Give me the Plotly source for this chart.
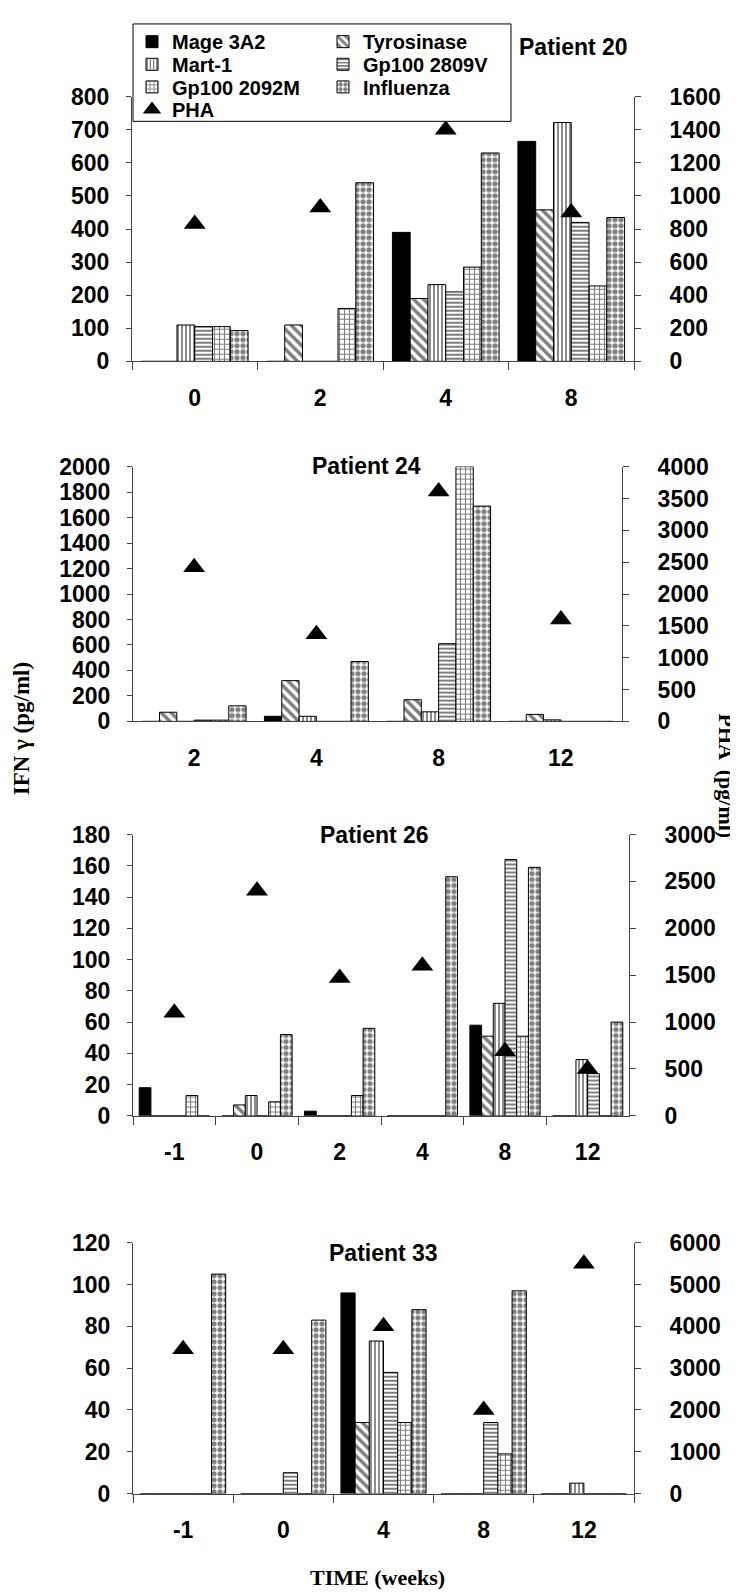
import plotly.graph_objects as go

W, H = 738, 1595
L, R = 124, 111
PW = W - L - R


def fx(px):
    return (px - L) / PW


def fy(py):
    return 1 - py / H


SERIES = ["Mage 3A2", "Tyrosinase", "Mart-1", "Gp100 2809V", "Gp100 2092M", "Influenza"]

# ---- Patient 20 ----
p20_weeks = ["0", "2", "4", "8"]
p20_mage = [0, 0, 390, 665]
p20_tyr = [0, 110, 190, 458]
p20_mart = [110, 0, 232, 722]
p20_g2809 = [105, 0, 210, 420]
p20_g2092 = [105, 160, 285, 228]
p20_flu = [93, 540, 630, 435]
p20_pha = [830, 930, 1400, 900]

# ---- Patient 24 ----
p24_weeks = ["2", "4", "8", "12"]
p24_mage = [0, 40, 0, 0]
p24_tyr = [72, 320, 170, 55]
p24_mart = [0, 40, 75, 12]
p24_g2809 = [10, 0, 610, 0]
p24_g2092 = [10, 0, 2000, 0]
p24_flu = [122, 470, 1690, 0]
p24_pha = [2420, 1370, 3610, 1600]

# ---- Patient 26 ----
p26_weeks = ["-1", "0", "2", "4", "8", "12"]
p26_mage = [18, 0, 3, 0, 58, 0]
p26_tyr = [0, 7, 0, 0, 51, 0]
p26_mart = [0, 13, 0, 0, 72, 36]
p26_g2809 = [0, 0, 0, 0, 164, 27]
p26_g2092 = [13, 9, 13, 0, 51, 0]
p26_flu = [0, 52, 56, 153, 159, 60]
p26_pha = [1100, 2400, 1470, 1600, 690, 500]

# ---- Patient 33 ----
p33_weeks = ["-1", "0", "4", "8", "12"]
p33_mage = [0, 0, 96, 0, 0]
p33_tyr = [0, 0, 34, 0, 0]
p33_mart = [0, 0, 73, 0, 5]
p33_g2809 = [0, 10, 58, 34, 0]
p33_g2092 = [0, 0, 34, 19, 0]
p33_flu = [105, 83, 88, 97, 0]
p33_pha = [3450, 3450, 4000, 2000, 5500]

STYLES = [
    dict(color="black", pattern=dict(shape="")),
    dict(color="white", pattern=dict(shape="\\", fgcolor="black", bgcolor="white", size=7, solidity=0.5)),
    dict(color="white", pattern=dict(shape="|", fgcolor="black", bgcolor="white", size=4, solidity=0.45)),
    dict(color="white", pattern=dict(shape="-", fgcolor="black", bgcolor="white", size=4, solidity=0.5)),
    dict(color="white", pattern=dict(shape="+", fgcolor="black", bgcolor="white", size=5, solidity=0.4)),
    dict(color="white", pattern=dict(shape=".", fgcolor="black", bgcolor="white", size=6, solidity=0.6)),
]
# legend rows (2 columns like the original key)
LEGEND_OF = ["legend", "legend", "legend2", "legend2", "legend3", "legend3"]

panels = [
    dict(weeks=p20_weeks, data=[p20_mage, p20_tyr, p20_mart, p20_g2809, p20_g2092, p20_flu], pha=p20_pha,
         ymax=800, dtick=100, y2max=1600, dtick2=200, x0=124, x1=626, ytop=77, ybot=346, xticks=True,
         title="Patient 20", tx=565, ty=26),
    dict(weeks=p24_weeks, data=[p24_mage, p24_tyr, p24_mart, p24_g2809, p24_g2092, p24_flu], pha=p24_pha,
         ymax=2000, dtick=200, y2max=4000, dtick2=500, x0=125, x1=614, ytop=453, ybot=712, xticks=False,
         title="Patient 24", tx=358, ty=452),
    dict(weeks=p26_weeks, data=[p26_mage, p26_tyr, p26_mart, p26_g2809, p26_g2092, p26_flu], pha=p26_pha,
         ymax=180, dtick=20, y2max=3000, dtick2=500, x0=125, x1=621, ytop=827, ybot=1113, xticks=True,
         title="Patient 26", tx=366, ty=827),
    dict(weeks=p33_weeks, data=[p33_mage, p33_tyr, p33_mart, p33_g2809, p33_g2092, p33_flu], pha=p33_pha,
         ymax=120, dtick=20, y2max=6000, dtick2=1000, x0=125, x1=626, ytop=1242, ybot=1497, xticks=True,
         title="Patient 33", tx=375, ty=1252),
]

SANS = "Liberation Sans, Arial, sans-serif"
SERIF = "Liberation Serif, Times New Roman, serif"
TICKFONT = dict(family=SANS, size=23, color="black", weight="bold")
AXCOLOR = "#444444"

fig = go.Figure()
layout = {}
annotations = []

for i, p in enumerate(panels, start=1):
    xname = "x" if i == 1 else f"x{i}"
    yl = f"y{2 * i - 1}" if i > 1 else "y"
    yr = f"y{2 * i}"
    xkey = "xaxis" if i == 1 else f"xaxis{i}"
    ylkey = "yaxis" if i == 1 else f"yaxis{2 * i - 1}"
    yrkey = f"yaxis{2 * i}"

    for s, (name, vals) in enumerate(zip(SERIES, p["data"])):
        st = STYLES[s]
        fig.add_trace(go.Bar(
            x=p["weeks"], y=vals, name=name, xaxis=xname, yaxis=yl,
            marker=dict(color=st["color"], pattern=st["pattern"], line=dict(color="black", width=1)),
            showlegend=(i == 1), legendgroup=name, legend=LEGEND_OF[s],
        ))
    fig.add_trace(go.Scatter(
        x=p["weeks"], y=p["pha"], name="PHA", mode="markers", xaxis=xname, yaxis=yr,
        marker=dict(symbol="triangle-up", size=19, color="black"),
        showlegend=(i == 1), legendgroup="PHA", legend="legend4",
    ))

    layout[xkey] = dict(
        domain=[fx(p["x0"]), fx(p["x1"])], anchor=yl, type="category",
        categoryorder="array", categoryarray=p["weeks"],
        tickson="boundaries", ticks="outside" if p["xticks"] else "", ticklen=8,
        tickcolor=AXCOLOR, showline=True, linecolor=AXCOLOR, linewidth=1,
        showgrid=False, zeroline=False, tickfont=TICKFONT, ticklabelstandoff=16,
        fixedrange=True,
    )
    layout[ylkey] = dict(
        domain=[fy(p["ybot"]), fy(p["ytop"])], anchor=xname, range=[0, p["ymax"]],
        dtick=p["dtick"], tick0=0, ticks="outside", ticklen=5, tickcolor=AXCOLOR,
        showline=True, linecolor=AXCOLOR, linewidth=1, showgrid=False, zeroline=False,
        tickfont=TICKFONT, ticklabelstandoff=12, fixedrange=True,
    )
    layout[yrkey] = dict(
        overlaying=yl, side="right", anchor=xname, range=[0, p["y2max"]],
        dtick=p["dtick2"], tick0=0, ticks="outside", ticklen=6, tickcolor=AXCOLOR,
        showline=True, linecolor=AXCOLOR, linewidth=1, showgrid=False, zeroline=False,
        tickfont=TICKFONT, ticklabelstandoff=24, fixedrange=True,
    )
    annotations.append(dict(
        text=p["title"], x=fx(p["tx"]), y=fy(p["ty"]), xref="paper", yref="paper",
        xanchor="center", yanchor="middle", showarrow=False,
        font=dict(family=SANS, size=23, color="black", weight="bold"),
    ))

annotations += [
    dict(text="IFN γ (pg/ml)", x=fx(13), y=fy(720), xref="paper", yref="paper", textangle=-90,
         xanchor="center", yanchor="middle", showarrow=False,
         font=dict(family=SERIF, size=23, color="black", weight="bold")),
    dict(text="PHA  (pg/ml)", x=fx(719), y=fy(767), xref="paper", yref="paper", textangle=90,
         xanchor="center", yanchor="middle", showarrow=False,
         font=dict(family=SERIF, size=22, color="black", weight="bold")),
    dict(text="TIME (weeks)", x=fx(369), y=fy(1582), xref="paper", yref="paper",
         xanchor="center", yanchor="middle", showarrow=False,
         font=dict(family=SERIF, size=22, color="black", weight="bold")),
]

LEGFONT = dict(family=SANS, size=20, color="black", weight="bold")
legend_rows = {"legend": 21, "legend2": 44, "legend3": 67, "legend4": 90}
for key, yc in legend_rows.items():
    layout[key] = dict(
        x=0, y=fy(yc), xanchor="left", yanchor="middle", orientation="h",
        entrywidth=146, entrywidthmode="pixels", traceorder="normal",
        bgcolor="rgba(0,0,0,0)", borderwidth=0, font=LEGFONT,
        itemclick=False, itemdoubleclick=False,
    )

legend_box = dict(
    type="rect", xref="paper", yref="paper",
    x0=fx(125), x1=fx(503), y0=fy(102), y1=fy(3),
    line=dict(color="black", width=1), fillcolor="white", layer="above",
)

fig.update_layout(
    width=W, height=H,
    margin=dict(l=L, r=R, t=0, b=0),
    paper_bgcolor="white", plot_bgcolor="white",
    barmode="group", bargap=0.15, bargroupgap=0,
    annotations=annotations,
    shapes=[legend_box],
    **layout,
)

fig.write_html("out.html")
